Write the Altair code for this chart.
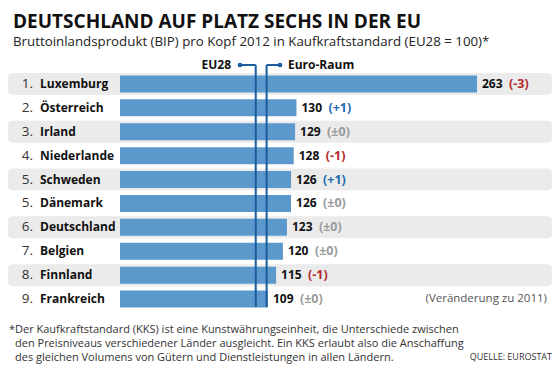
import altair as alt
import pandas as pd

names = ["Luxemburg", "Österreich", "Irland", "Niederlande", "Schweden",
         "Dänemark", "Deutschland", "Belgien", "Finnland", "Frankreich"]
ranks = ["1.", "2.", "3.", "4.", "5.", "5.", "6.", "7.", "8.", "9."]
values = [263, 130, 129, 128, 126, 126, 123, 120, 115, 109]
changes = ["(-3)", "(+1)", "(±0)", "(-1)", "(+1)", "(±0)", "(±0)", "(±0)", "(-1)", "(±0)"]
eu28 = 100
euro_raum = 108

title = "DEUTSCHLAND AUF PLATZ SECHS IN DER EU"
subtitle = "Bruttoinlandsprodukt (BIP) pro Kopf 2012 in Kaufkraftstandard (EU28 = 100)*"
footnote = [
    "Der Kaufkraftstandard (KKS) ist eine Kunstwährungseinheit, die Unterschiede zwischen",
    "den Preisniveaus verschiedener Länder ausgleicht. Ein KKS erlaubt also die Anschaffung",
    "des gleichen Volumens von Gütern und Dienstleistungen in allen Ländern.",
]
source = "QUELLE: EUROSTAT"
change_note = "(Veränderung zu 2011)"

FONT = "Open Sans"

def kind(c):
    if c.startswith("(-"):
        return "neg"
    if c.startswith("(+"):
        return "pos"
    return "zero"

df = pd.DataFrame({
    "name": names, "rank": ranks, "v": values, "change": changes,
    "kind": [kind(c) for c in changes],
    "idx": list(range(len(names))),
})

xs = alt.Scale(domain=[0, 263], range=[112, 469])
ys = alt.Scale(domain=names, range=[64, 303], paddingInner=0, paddingOuter=0)
Y = alt.Y("name:N", scale=ys, axis=None)
X = alt.X("v:Q", scale=xs, axis=None)

base = alt.Chart(df)

bands = base.transform_filter("datum.idx % 2 == 0").mark_bar(
    size=22, color="#ebebeb", cornerRadius=6
).encode(y=Y, x=alt.value(-1), x2=alt.value(545))

bars = base.mark_bar(size=17, color="#5b98cb").encode(
    y=Y, x=alt.X("zero:Q", scale=xs, axis=None), x2="v:Q"
).transform_calculate(zero="0")

rank_txt = base.mark_text(align="right", baseline="middle", font=FONT,
                          fontSize=13.5, color="#333333").encode(
    y=Y, x=alt.value(25), text="rank:N")
name_txt = base.mark_text(align="left", baseline="middle", font=FONT,
                          fontSize=12, fontWeight="bold", color="#111111").encode(
    y=Y, x=alt.value(32), text="name:N")
val_txt = base.mark_text(align="left", baseline="middle", font=FONT, dx=5,
                         fontSize=12, fontWeight="bold", color="#111111").encode(
    y=Y, x=X, text="v:Q")
chg_txt = base.mark_text(align="left", baseline="middle", font=FONT, dx=32,
                         fontSize=12.5, fontWeight="bold").encode(
    y=Y, x=X, text="change:N",
    color=alt.Color("kind:N", scale=alt.Scale(domain=["neg", "pos", "zero"],
                                              range=["#b22a2a", "#1f6cb0", "#9a9a9a"]),
                    legend=None))

ref = pd.DataFrame({"v": [eu28, euro_raum], "label": ["EU28", "Euro-Raum"],
                    "end": [232, 272]})
LINE = "#1a5c9e"
vlines = alt.Chart(ref).mark_rule(color=LINE, strokeWidth=2).encode(
    x=X, y=alt.value(57), y2=alt.value(299))
eu_h = alt.Chart(ref.iloc[[0]]).mark_rule(color=LINE, strokeWidth=2).encode(
    x=X, x2=alt.value(232), y=alt.value(57))
ez_h = alt.Chart(ref.iloc[[1]]).mark_rule(color=LINE, strokeWidth=2).encode(
    x=X, x2=alt.value(272), y=alt.value(57))
dots = alt.Chart(ref).mark_circle(color=LINE, size=22, opacity=1).encode(
    x=alt.X("end:Q", scale=None), y=alt.value(57))
eu_lab = alt.Chart(ref.iloc[[0]]).mark_text(align="right", baseline="middle", font=FONT,
                                          fontSize=12, fontWeight="bold", color="#111").encode(
    x=alt.value(223), y=alt.value(57), text="label:N")
ez_lab = alt.Chart(ref.iloc[[1]]).mark_text(align="left", baseline="middle", font=FONT,
                                          fontSize=12, fontWeight="bold", color="#111").encode(
    x=alt.value(280), y=alt.value(57), text="label:N")

one = pd.DataFrame({"t": [title], "s": [subtitle], "n": [change_note], "q": [source]})
title_txt = alt.Chart(one).mark_text(align="left", baseline="alphabetic", font=FONT,
                                     fontSize=19, fontWeight="bold", color="#111").encode(
    x=alt.value(5), y=alt.value(20), text="t:N")
sub_txt = alt.Chart(one).mark_text(align="left", baseline="alphabetic", font=FONT,
                                   fontSize=13.3, color="#222").encode(
    x=alt.value(5), y=alt.value(38), text="s:N")
note_txt = alt.Chart(one).mark_text(align="right", baseline="middle", font=FONT,
                                    fontSize=11.5, color="#555").encode(
    x=alt.value(539), y=alt.value(291), text="n:N")
src_txt = alt.Chart(one).mark_text(align="right", baseline="alphabetic", font=FONT,
                                   fontSize=9, color="#333").encode(
    x=alt.value(544), y=alt.value(352), text="q:N")

fn = pd.DataFrame({"line": footnote, "i": [0, 1, 2]})
fn_txt = alt.Chart(fn).mark_text(align="left", baseline="alphabetic", font=FONT,
                                 fontSize=11, color="#333").encode(
    x=alt.value(7), y=alt.Y("i:Q", scale=alt.Scale(domain=[0, 2], range=[325, 353]), axis=None),
    text="line:N")
star = alt.Chart(one).mark_text(align="left", baseline="alphabetic", font=FONT,
                                fontSize=11, color="#333").encode(
    x=alt.value(1), y=alt.value(325), text=alt.value("*"))

chart = alt.layer(
    bands, bars, rank_txt, name_txt, val_txt, chg_txt,
    vlines, eu_h, ez_h, dots, eu_lab, ez_lab,
    title_txt, sub_txt, note_txt, src_txt, fn_txt, star,
).resolve_scale(y="independent").properties(
    width=544, height=365, autosize=alt.AutoSizeParams(type="none"), padding=0
).configure_view(stroke=None)

chart.save("out.html", embed_options={"renderer": "svg", "actions": False})
